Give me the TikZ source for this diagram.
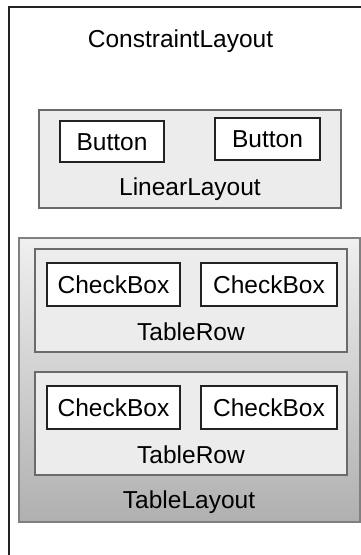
\documentclass[tikz,border=0pt]{standalone}
\usepackage{fontspec}
\setmainfont{Liberation Sans}
\usepackage{tikz}
\usetikzlibrary{positioning}

\definecolor{inkline}{HTML}{222222}
\definecolor{boxline}{HTML}{6A6A6A}
\definecolor{boxfill}{HTML}{ECECEC}

\begin{document}
\begin{tikzpicture}[
  x=1pt,y=-1pt,
  every node/.style={font=\fontsize{24.5}{28}\selectfont,text=black,inner sep=0pt},
  outerbox/.style={draw=inkline,line width=2pt,minimum width=380pt,minimum height=600pt},
  groupbox/.style={draw=boxline,line width=1.5pt,fill=boxfill},
  tablebox/.style={draw=black!50,line width=1.5pt,top color=black!6,bottom color=black!31},
  widget/.style={draw=inkline,line width=1.6pt,fill=white,text height=17.5pt,text depth=0pt},
  lbl/.style={anchor=base}
]
\useasboundingbox (0,0) rectangle (361,555);
\clip (0,0) rectangle (361,555);
\fill[white] (0,0) rectangle (361,555);

% ConstraintLayout
\node[outerbox] (cl) at (199,307) {};
\node[lbl] (cltxt) at (180.5,47) {ConstraintLayout};

% LinearLayout with two buttons
\node[groupbox,minimum width=302pt,minimum height=98pt] (ll) at (190,159) {};
\node[widget,minimum width=104pt,minimum height=41pt] (btnA) at (112,141.5) {Button};
\node[widget,minimum width=105pt,minimum height=42pt] (btnB) at (267.5,139) {Button};
\node[lbl] (lltxt) at (190,195) {LinearLayout};

% TableLayout
\node[tablebox,minimum width=341pt,minimum height=284pt] (tl) at (189.5,380) {};
\foreach \r/\y in {1/300.5,2/423.5} {
  \node[groupbox,minimum width=312pt,minimum height=103pt] (row\r) at (191,\y) {};
  \node[widget,minimum width=133pt,minimum height=43pt] (cb\r a) at (113.5,\y-16) {CheckBox};
  \node[widget,minimum width=136pt,minimum height=43pt] (cb\r b) at (269,\y-16) {CheckBox};
  \node[lbl] (row\r txt) at (191,\y+39.5) {TableRow};
}
\node[lbl] (tltxt) at (189,508) {TableLayout};
\end{tikzpicture}
\end{document}
